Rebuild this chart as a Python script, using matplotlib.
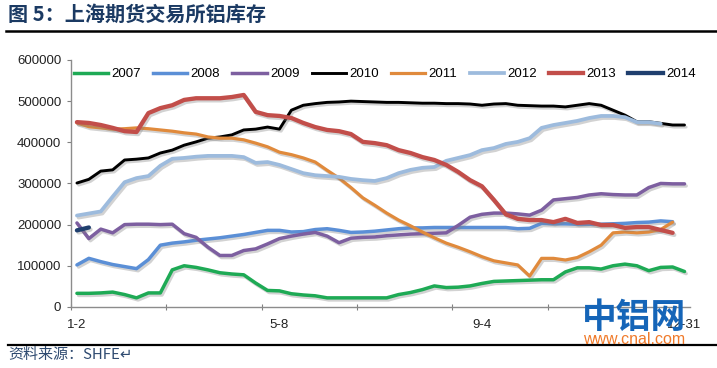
import numpy as np
import matplotlib
matplotlib.use("Agg")
import matplotlib.pyplot as plt
import matplotlib.patheffects as pe
from matplotlib.lines import Line2D

# ------------------------------------------------------------
# data: SHFE aluminium stocks (tonnes), weekly
# ------------------------------------------------------------
TICK_LABELS = ["1-2", "5-8", "9-4", "12-31"]
LABEL_POS = [0, 17, 34, 51]
N_WEEKS = 52

YEARS = ["2007", "2008", "2009", "2010", "2011", "2012", "2013", "2014"]

s2007 = [33000, 33000, 34000, 36000, 30000, 22000, 34000, 34000, 90000, 100000,
         96000, 90000, 83000, 80000, 78000, 58000, 40000, 39000, 32000, 29000,
         27000, 22000, 22000, 22000, 22000, 22000, 22000, 30000, 35000, 42000,
         51000, 47000, 48000, 51000, 57000, 62000, 63000, 64000, 65000, 66000,
         66000, 85000, 95000, 95000, 92000, 100000, 104000, 100000, 88000, 96000,
         97000, 86000]
s2008 = [102000, 118000, 110000, 103000, 98000, 93000, 115000, 150000, 155000, 158000,
         162000, 165000, 168000, 172000, 176000, 181000, 186000, 186000, 182000, 183000,
         188000, 190000, 186000, 181000, 182000, 184000, 187000, 190000, 192000, 192000,
         193000, 193000, 193000, 193000, 193000, 193000, 193000, 190000, 191000, 203000,
         202000, 202000, 201000, 201000, 201000, 202000, 203000, 205000, 206000, 209000,
         207000]
s2009 = [204000, 166000, 189000, 180000, 200000, 201000, 201000, 200000, 201000, 178000,
         169000, 145000, 125000, 125000, 137000, 141000, 153000, 166000, 172000, 177000,
         181000, 172000, 156000, 167000, 169000, 170000, 173000, 175000, 177000, 178000,
         179000, 180000, 198000, 218000, 225000, 228000, 228000, 226000, 223000, 235000,
         260000, 263000, 266000, 272000, 275000, 273000, 272000, 272000, 290000, 300000,
         299000, 299000]
s2010 = [301000, 310000, 330000, 333000, 357000, 359000, 362000, 374000, 381000, 393000,
         401000, 410000, 413000, 418000, 430000, 432000, 437000, 432000, 478000, 490000,
         494000, 497000, 498000, 500000, 499000, 498000, 497000, 497000, 496000, 495000,
         495000, 494000, 494000, 493000, 490000, 493000, 494000, 490000, 489000, 488000,
         488000, 486000, 490000, 494000, 490000, 478000, 466000, 450000, 450000, 446000,
         442000, 442000]
s2011 = [447000, 438000, 435000, 432000, 433000, 435000, 433000, 430000, 427000, 423000,
         420000, 413000, 410000, 410000, 406000, 398000, 389000, 376000, 370000, 362000,
         352000, 332000, 313000, 290000, 265000, 247000, 228000, 211000, 197000, 182000,
         168000, 155000, 145000, 134000, 122000, 112000, 107000, 102000, 75000, 118000,
         118000, 114000, 120000, 134000, 150000, 180000, 182000, 180000, 182000, 188000,
         206000]
s2012 = [222000, 227000, 232000, 268000, 303000, 313000, 318000, 343000, 360000, 362000,
         365000, 367000, 367000, 367000, 364000, 350000, 352000, 345000, 335000, 325000,
         320000, 318000, 316000, 311000, 308000, 306000, 313000, 325000, 333000, 338000,
         340000, 355000, 362000, 369000, 381000, 386000, 396000, 401000, 410000, 435000,
         442000, 447000, 452000, 459000, 464000, 464000, 461000, 449000, 449000, 445000]
s2013 = [449000, 447000, 442000, 435000, 427000, 425000, 471000, 483000, 490000, 503000,
         507000, 507000, 507000, 510000, 515000, 474000, 466000, 464000, 459000, 447000,
         437000, 430000, 427000, 420000, 401000, 398000, 393000, 381000, 374000, 364000,
         357000, 345000, 328000, 308000, 293000, 260000, 225000, 214000, 211000, 211000,
         206000, 214000, 204000, 206000, 199000, 199000, 192000, 194000, 194000, 187000,
         180000]
s2014 = [186000, 193000]

SERIES = [s2007, s2008, s2009, s2010, s2011, s2012, s2013, s2014]
COLORS = ["#1EAA55", "#5B8FD6", "#7D5FA0", "#000000",
          "#E08A3C", "#9DBBDD", "#C24E4A", "#1F3F6E"]
WIDTHS = [2.5, 2.5, 2.5, 2.1, 2.3, 2.7, 3.1, 3.1]

CJK = ["Noto Sans CJK SC", "DejaVu Sans"]
LAT = "Liberation Sans"


def main():
    fig = plt.figure(figsize=(7.17, 3.68), dpi=100)
    ax = fig.add_axes([0.099, 0.166, 0.864, 0.671])

    shadow = [pe.SimpleLineShadow(offset=(1.2, -1.5), shadow_color="#808080", alpha=0.35),
              pe.Normal()]
    for name, vals, col, lw in zip(YEARS, SERIES, COLORS, WIDTHS):
        x = np.arange(len(vals))
        ax.plot(x, vals, color=col, linewidth=lw, solid_capstyle="round",
                solid_joinstyle="round", path_effects=shadow, label=name)

    ax.set_xlim(-0.5, N_WEEKS - 0.5)
    ax.set_ylim(0, 600000)
    ax.set_yticks(np.arange(0, 600001, 100000))
    ax.set_yticklabels([f"{v:d}" for v in range(0, 600001, 100000)],
                       fontsize=9.5, family=LAT, color="#222222")

    # tick marks every 8 weeks, labels on separate (unmarked) positions
    ax.set_xticks(np.arange(-0.5, N_WEEKS, 8))
    ax.set_xticklabels([])
    ax.set_xticks(LABEL_POS, minor=True)
    ax.set_xticklabels(TICK_LABELS, minor=True, fontsize=9.5, family=LAT, color="#222222")
    ax.tick_params(axis="x", which="minor", length=0, pad=9)
    ax.tick_params(axis="x", which="major", length=4, color="#808080", direction="inout")
    ax.tick_params(axis="y", length=3, color="#808080", pad=4)

    for s in ("top", "right"):
        ax.spines[s].set_visible(False)
    for s in ("left", "bottom"):
        ax.spines[s].set_color("#8C8C8C")
        ax.spines[s].set_linewidth(1.0)

    handles = [Line2D([], [], color=c, linewidth=lw) for c, lw in zip(COLORS, WIDTHS)]
    ax.legend(handles, YEARS, loc="upper left", bbox_to_anchor=(-0.008, 1.0), ncol=8,
              frameon=False, handlelength=2.6, handletextpad=0.25, columnspacing=0.92,
              prop={"family": LAT, "size": 9.5}, borderaxespad=0.2)

    # header / footer
    fig.text(0.011, 0.962, "图 5：上海期货交易所铝库存", family=CJK, fontsize=14.5,
             fontweight="bold", color="#1B3A63", va="center", ha="left")
    fig.add_artist(Line2D([0.008, 1.0], [0.916, 0.916], color="black", linewidth=1.8))
    fig.add_artist(Line2D([0.011, 1.0], [0.062, 0.062], color="black", linewidth=1.6))
    fig.text(0.011, 0.035, "资料来源：SHFE↵", family=CJK, fontsize=10.8,
             color="#2E4A70", va="center", ha="left", style="italic")

    # watermark
    fig.text(0.885, 0.138, "中铝网", family=CJK, fontsize=25, fontweight="bold",
             color="#1565B8", ha="center", va="center", zorder=10)
    fig.text(0.885, 0.078, "www.cnal.com", family=LAT, fontsize=11.5,
             color="#F07A2A", ha="center", va="center", zorder=10)

    fig.savefig("out.png", dpi=100, facecolor="white")


if __name__ == "__main__":
    main()
